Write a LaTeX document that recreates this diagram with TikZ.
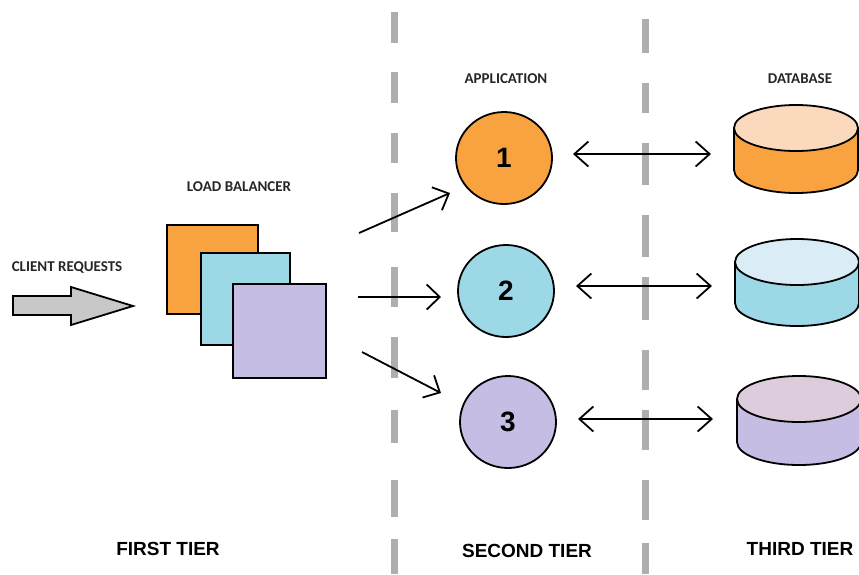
\documentclass[tikz,border=0pt]{standalone}
\usepackage{fontspec}
\setmainfont{Liberation Sans}
\newfontfamily\calib{Carlito}
\usetikzlibrary{arrows.meta,shapes.geometric}
\definecolor{cOrange}{HTML}{F9A340}
\definecolor{cBlue}{HTML}{9DD8E7}
\definecolor{cPurple}{HTML}{C6BDE4}
\definecolor{cPeach}{HTML}{FBD9BD}
\definecolor{cLightBlue}{HTML}{DAEDF7}
\definecolor{cMauve}{HTML}{DCCCDC}
\definecolor{cDash}{HTML}{AEAEAE}
\definecolor{cArrow}{HTML}{C8C8C8}
\begin{document}
\begin{tikzpicture}[x=1pt,y=-1pt,
  toplabel/.style={font=\calib\fontsize{15}{15}\selectfont\bfseries, text=black!85},
  tierlabel/.style={font=\fontsize{19}{19}\selectfont\bfseries},
  square/.style={draw=black, line width=2pt, anchor=north west, inner sep=0pt},
  appcircle/.style={ellipse, draw=black, line width=1.8pt, minimum width=96pt, minimum height=92pt, inner sep=0pt, font=\fontsize{28}{28}\selectfont\bfseries},
  flow/.style={line width=1.8pt, -{Straight Barb[length=13pt,width=25pt]}},
  both/.style={line width=1.8pt, {Straight Barb[length=14pt,width=25pt]}-{Straight Barb[length=14pt,width=25pt]}},
  tierline/.style={draw=cDash, line width=7pt},
  cylout/.style={draw=black, line width=1.8pt},
]
\useasboundingbox (0,0) rectangle (859,574);
\clip (0,0) rectangle (859,574);

% tier separators
\foreach \a/\b in {12/43,72/103,133/163,193/232,267/307,337/378,410/443,480/517,539/574}
  \draw[tierline] (394,\a) -- (394,\b);
\foreach \a/\b in {19/53,83/113,143/185,215/257,277/320,350/390,410/450,480/520,543/574}
  \draw[tierline] (645,\a) -- (645,\b);

% labels
\node[toplabel] (lclient) at (67,268) {CLIENT REQUESTS};
\node[toplabel] (llb) at (239,187) {LOAD BALANCER};
\node[toplabel] (lapp) at (506,79) {APPLICATION};
\node[toplabel] (ldb) at (800,79) {DATABASE};
\node[tierlabel] (t1) at (168,549) {FIRST TIER};
\node[tierlabel] (t2) at (527,551) {SECOND TIER};
\node[tierlabel] (t3) at (800,549) {THIRD TIER};

% client request arrow
\draw[fill=cArrow, line width=1.8pt, line join=miter]
  (13,296) -- (71,296) -- (71,287) -- (133,306) -- (71,325) -- (71,315) -- (13,315) -- cycle;

% load balancer squares
\node[square, fill=cOrange, minimum width=91pt, minimum height=89pt] (sq1) at (166,224) {};
\node[square, fill=cBlue, minimum width=89pt, minimum height=92pt] (sq2) at (200,252) {};
\node[square, fill=cPurple, minimum width=93pt, minimum height=94pt] (sq3) at (232,283) {};

% application servers
\node[appcircle, fill=cOrange] (app1) at (504,158) {1};
\node[appcircle, fill=cBlue] (app2) at (506,291) {2};
\node[appcircle, fill=cPurple] (app3) at (508,422) {3};

% databases
\foreach \n/\cx/\ty/\by/\top/\side in {1/796/128/170/cPeach/cOrange, 2/797/262/303/cLightBlue/cBlue, 3/799/399/442/cMauve/cPurple}{
  \fill[\side] (\cx-62,\ty) -- (\cx-62,\by) arc[start angle=180,end angle=360,x radius=62pt,y radius=23pt] -- (\cx+62,\ty) -- cycle;
  \draw[cylout] (\cx-62,\ty) -- (\cx-62,\by) arc[start angle=180,end angle=360,x radius=62pt,y radius=23pt] -- (\cx+62,\ty);
  \draw[cylout, fill=\top] (\cx,\ty) ellipse[x radius=62pt, y radius=23pt];
  \coordinate (db\n) at (\cx-62,\ty+21);
}

% load balancer to application arrows
\coordinate (s1) at (359,233);
\coordinate (e1) at (450,193);
\coordinate (s2) at (358,297);
\coordinate (e2) at (441,297);
\coordinate (s3) at (362,352);
\coordinate (e3) at (441,393);
\draw[flow] (s1) -- (e1);
\draw[flow] (s2) -- (e2);
\draw[flow] (s3) -- (e3);

% application to database arrows
\coordinate (l1) at (573,154);
\coordinate (r1) at (711,154);
\coordinate (l2) at (576,286);
\coordinate (r2) at (712,286);
\coordinate (l3) at (578,419);
\coordinate (r3) at (713,419);
\draw[both] (l1) -- (r1);
\draw[both] (l2) -- (r2);
\draw[both] (l3) -- (r3);
\end{tikzpicture}
\end{document}
